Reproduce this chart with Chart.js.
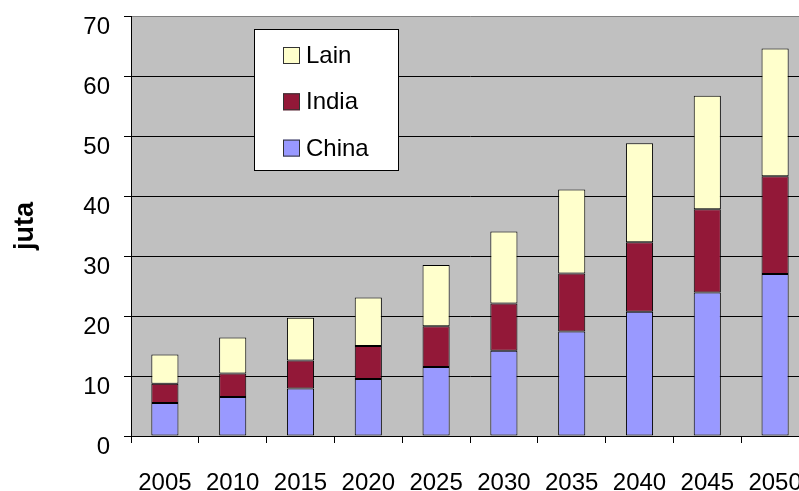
<!DOCTYPE html>
<html>
<head>
<meta charset="utf-8">
<script src="https://cdn.jsdelivr.net/npm/chart.js@4/dist/chart.umd.min.js"></script>
<style>
  html, body { margin: 0; padding: 0; overflow: hidden; background: #fff; }
  #wrap { width: 810px; height: 491px; position: relative; }
</style>
</head>
<body>
<div id="wrap"><canvas id="chart"></canvas></div>
<script>
// years on the x axis
const years = ['2005', '2010', '2015', '2020', '2025', '2030', '2035', '2040', '2045', '2050'];

// stacked segments (juta)
const china = [5.5, 6.5, 7.9, 9.5, 11.5, 14.2, 17.4, 20.7, 23.9, 27.0];
const india = [3.2, 3.9, 4.7, 5.5, 6.8, 7.9, 9.7, 11.6, 13.9, 16.3];
const lain = [4.9, 6.0, 7.1, 8.1, 10.2, 12.0, 14.0, 16.5, 18.9, 21.3];

const yTicks = [0, 10, 20, 30, 40, 50, 60, 70];

const FONT = '"Liberation Sans", Arial, sans-serif';

// grey plot background
const plotBg = {
  id: 'plotBg',
  beforeDraw(chart) {
    const { ctx, chartArea: a } = chart;
    ctx.save();
    ctx.fillStyle = '#c0c0c0';
    ctx.fillRect(a.left, a.top, a.right - a.left, a.bottom - a.top);
    ctx.restore();
  }
};

// boxed legend inside the plot, top series first
const boxLegend = {
  id: 'boxLegend',
  afterDraw(chart) {
    const { ctx, chartArea: a } = chart;
    const x = a.left + 123, y = a.top + 13;
    ctx.save();
    ctx.fillStyle = '#fff';
    ctx.fillRect(x, y, 144, 141);
    ctx.strokeStyle = '#000';
    ctx.lineWidth = 1;
    ctx.strokeRect(x + 0.5, y + 0.5, 144, 141);
    const sets = chart.data.datasets.slice().reverse();
    ctx.font = '24px ' + FONT;
    ctx.textBaseline = 'middle';
    sets.forEach((ds, i) => {
      const sy = y + 18 + i * 46.3;
      ctx.fillStyle = ds.backgroundColor;
      ctx.fillRect(x + 29, sy, 17, 17);
      ctx.strokeStyle = '#333';
      ctx.strokeRect(x + 29.5, sy + 0.5, 16, 16);
      ctx.fillStyle = '#000';
      ctx.fillText(ds.label, x + 52, sy + 9.5);
    });
    ctx.restore();
  }
};

new Chart(document.getElementById('chart'), {
  type: 'bar',
  data: {
    labels: years,
    datasets: [
      { label: 'China', data: china, backgroundColor: '#9999ff' },
      { label: 'India', data: india, backgroundColor: '#931838' },
      { label: 'Lain', data: lain, backgroundColor: '#ffffcc' }
    ]
  },
  options: {
    responsive: true,
    maintainAspectRatio: false,
    animation: false,
    layout: { padding: { top: 16, right: 1, left: 0, bottom: 0 } },
    datasets: {
      bar: {
        borderColor: '#000',
        borderWidth: 1,
        borderSkipped: false,
        barPercentage: 0.4,
        categoryPercentage: 1
      }
    },
    plugins: {
      legend: { display: false },
      tooltip: { enabled: false }
    },
    scales: {
      x: {
        stacked: true,
        afterFit(scale) {
          scale.height = 55;
          scale.paddingLeft = 0;
          scale.paddingRight = 0;
        },
        grid: {
          offset: true,
          drawOnChartArea: false,
          color: '#000',
          tickLength: 7
        },
        border: { display: true, color: '#000' },
        ticks: {
          color: '#000',
          font: { family: FONT, size: 24 },
          padding: 26,
          maxRotation: 0,
          autoSkip: false
        }
      },
      y: {
        stacked: true,
        min: 0,
        max: 70,
        afterFit(scale) {
          scale.width = 131;
          scale.paddingTop = 0;
          scale.paddingBottom = 0;
        },
        afterBuildTicks(scale) { scale.ticks = yTicks.map(v => ({ value: v })); },
        grid: {
          color: ctx => (ctx.tick && ctx.tick.value === 70 ? '#808080' : '#000'),
          tickColor: '#000',
          tickLength: 7
        },
        border: { display: true, color: '#000' },
        ticks: {
          color: '#000',
          font: { family: FONT, size: 24 },
          padding: 14,
          labelOffset: 11
        },
        title: {
          display: true,
          text: 'juta',
          color: '#000',
          font: { family: FONT, size: 27, weight: 'bold' },
          padding: { top: 9, bottom: 0 }
        }
      }
    }
  },
  plugins: [plotBg, boxLegend]
});
</script>
</body>
</html>
